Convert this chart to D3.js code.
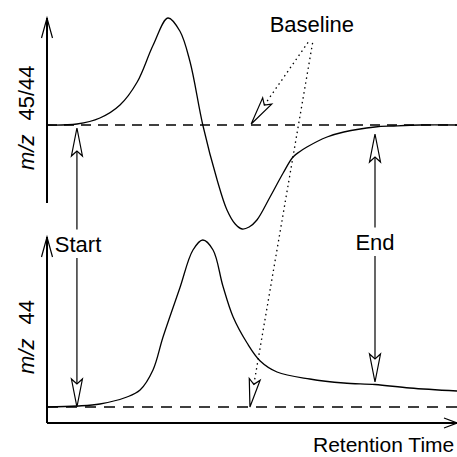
<!DOCTYPE html>
<html>
<head>
<meta charset="utf-8">
<script src="https://cdn.jsdelivr.net/npm/d3@7"></script>
<style>
  html, body { margin: 0; padding: 0; background: #fff; }
  svg { display: block; }
  text { font-family: "Liberation Sans", Arial, Helvetica, sans-serif; fill: #000; }
</style>
</head>
<body>
<script>
// ---- Data ----
const timeTop = [0, 7.3, 12.9, 17.8, 22.0, 25.9, 29.5, 32.4, 34.9, 38.0, 41.5, 43.9, 45.9, 47.6, 49.3, 51.2, 54.4, 57.6, 60.0, 61.7, 63.4, 68.3, 72.4, 80.0, 84.6, 91.0, 100];
const ratio4544 = [0, 0.01, 0.07, 0.20, 0.43, 0.80, 1.07, 0.94, 0.63, 0, -0.55, -0.85, -0.99, -1.04, -1.02, -0.95, -0.72, -0.48, -0.32, -0.265, -0.22, -0.12, -0.07, -0.02, -0.01, 0, 0];

const timeBottom = [0, 7.3, 12.9, 19.5, 22.7, 25.85, 28.3, 32.4, 35.6, 38.0, 40.5, 42.9, 45.4, 48.8, 52.0, 56.1, 64.1, 72.4, 80.0, 88.5, 100];
const signal44 = [0, 0.01, 0.03, 0.10, 0.17, 0.37, 0.70, 1.19, 1.57, 1.67, 1.57, 1.21, 0.90, 0.64, 0.46, 0.35, 0.28, 0.24, 0.225, 0.19, 0.16];

const baselineValue = [0];
const startTime = [7.3];
const endTime = [80];
const labels = { top: ["m/z", "45/44"], bottom: ["m/z", "44"], x: "Retention Time" };
const annotations = ["Baseline", "Start", "End"];

// ---- Layout ----
const W = 457, H = 457;
const svg = d3.select("body").append("svg").attr("width", W).attr("height", H);
svg.append("rect").attr("width", W).attr("height", H).attr("fill", "#fff");

const x = d3.scaleLinear().domain([0, 100]).range([47, 457]);
const yTop = d3.scaleLinear().domain([-0.78, 1.07]).range([203, 18]);
const yBot = d3.scaleLinear().domain([-0.16, 1.70]).range([423, 237]);

const g = svg.append("g");

// baselines (dashed)
g.append("line").attr("x1", x(0)).attr("x2", x(100))
  .attr("y1", yTop(baselineValue[0])).attr("y2", yTop(baselineValue[0]))
  .attr("stroke", "#000").attr("stroke-width", 1.6).attr("stroke-dasharray", "10,7");
g.append("line").attr("x1", x(0)).attr("x2", x(100))
  .attr("y1", yBot(baselineValue[0])).attr("y2", yBot(baselineValue[0]))
  .attr("stroke", "#000").attr("stroke-width", 1.6).attr("stroke-dasharray", "11,8");

// curves
const lineTop = d3.line().x(i => x(timeTop[i])).y(i => yTop(ratio4544[i])).curve(d3.curveCatmullRom.alpha(0.5));
const lineBot = d3.line().x(i => x(timeBottom[i])).y(i => yBot(signal44[i])).curve(d3.curveCatmullRom.alpha(0.5));
g.append("path").attr("d", lineTop(d3.range(timeTop.length)))
  .attr("fill", "none").attr("stroke", "#000").attr("stroke-width", 1.3);
g.append("path").attr("d", lineBot(d3.range(timeBottom.length)))
  .attr("fill", "none").attr("stroke", "#000").attr("stroke-width", 1.3);

// axes
function vAxis(scale) {
  const [y0, y1] = scale.range();
  const ax = x(0);
  g.append("line").attr("x1", ax).attr("x2", ax).attr("y1", y0).attr("y2", y1)
    .attr("stroke", "#000").attr("stroke-width", 2);
  g.append("path").attr("d", `M${ax - 5.5},${y1 + 20}L${ax},${y1}L${ax + 5.5},${y1 + 20}`)
    .attr("fill", "none").attr("stroke", "#000").attr("stroke-width", 1.2);
}
vAxis(yTop);
vAxis(yBot);
{
  const yb = yBot.range()[0];
  const [x0, x1] = x.range();
  g.append("line").attr("x1", x0).attr("x2", x1).attr("y1", yb).attr("y2", yb)
    .attr("stroke", "#000").attr("stroke-width", 2);
  g.append("path").attr("d", `M${x1 - 13},${yb - 5}L${x1},${yb}L${x1 - 13},${yb + 5}`)
    .attr("fill", "none").attr("stroke", "#000").attr("stroke-width", 1.2);
}

// open kite arrowhead: tip point and a point it comes from
function head(tip, from) {
  const dx = from[0] - tip[0], dy = from[1] - tip[1];
  const L = Math.hypot(dx, dy), ux = dx / L, uy = dy / L;
  const px = -uy, py = ux;
  const w = 5.5, len = 28, notch = 23;
  const b = [tip[0] + ux * len, tip[1] + uy * len];
  const n = [tip[0] + ux * notch, tip[1] + uy * notch];
  g.append("path")
    .attr("d", `M${tip[0]},${tip[1]}L${b[0] + px * w},${b[1] + py * w}L${n[0]},${n[1]}L${b[0] - px * w},${b[1] - py * w}Z`)
    .attr("fill", "#fff").attr("stroke", "#000").attr("stroke-width", 1.2).attr("stroke-linejoin", "miter");
  return n;
}
function seg(a, b, dash) {
  const l = g.append("line").attr("x1", a[0]).attr("y1", a[1]).attr("x2", b[0]).attr("y2", b[1])
    .attr("stroke", "#000").attr("stroke-width", dash ? 1.3 : 1.2);
  if (dash) l.attr("stroke-dasharray", dash);
}

// Start / End double arrows with label breaks
const fs = 22;
function markerArrow(t, vTopTip, vBotTip, labelY, label, labelX, anchor) {
  const xa = x(t);
  const topTip = [xa, yTop(vTopTip)], botTip = [xa, yBot(vBotTip)];
  const n1 = head(topTip, botTip);
  const n2 = head(botTip, topTip);
  seg(n1, [xa, labelY - fs * 0.75 - 6]);
  seg([xa, labelY + 6], n2);
  g.append("text").attr("x", labelX).attr("y", labelY).attr("font-size", fs)
    .attr("text-anchor", anchor).text(label);
}
markerArrow(startTime[0], -0.03, 0, 252, annotations[1], x(1.9), "start");
markerArrow(endTime[0], -0.09, 0.25, 250, annotations[2], x(endTime[0]), "middle");

// Baseline label with dotted pointers
g.append("text").attr("x", x(64.6)).attr("y", 32).attr("font-size", fs)
  .attr("text-anchor", "middle").text(annotations[0]);
{
  const o1 = [x(63.9), 41], o2 = [x(64.9), 40];
  const t1 = [x(49.8), yTop(0) - 1], t2 = [x(49.5), yBot(0)];
  const n1 = head(t1, o1);
  seg(n1, o1, "1.5,3.5");
  const n2 = head(t2, o2);
  seg(n2, o2, "1.5,3.5");
}

// axis labels
function yLabel(parts, baseX, startY) {
  const t = g.append("text").attr("transform", `translate(${baseX},${startY}) rotate(-90)`)
    .attr("font-size", fs);
  t.append("tspan").attr("font-style", "italic").text(parts[0]);
  t.append("tspan").attr("dx", 14).text(parts[1]);
}
yLabel(labels.top, 34, 170);
yLabel(labels.bottom, 34, 374);

g.append("text").attr("x", 313).attr("y", 452).attr("font-size", 21).text(labels.x);
</script>
</body>
</html>
